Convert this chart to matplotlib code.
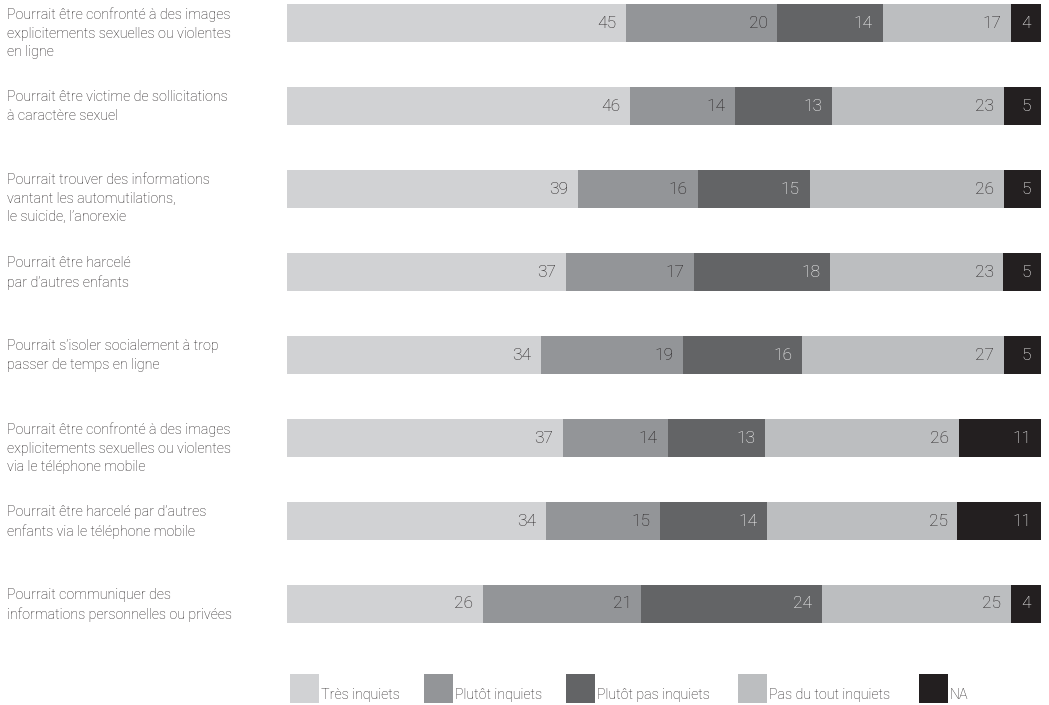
import matplotlib.pyplot as plt
import matplotlib.transforms as mtransforms
from matplotlib.patches import Rectangle
import numpy as np

plt.rcParams['font.family'] = ['Liberation Sans Narrow', 'Roboto', 'DejaVu Sans']
plt.rcParams['font.weight'] = 'light'

questions = [
    "Pourrait être confronté à des images\nexplicitements sexuelles ou violentes\nen ligne",
    "Pourrait être victime de sollicitations\nà caractère sexuel",
    "Pourrait trouver des informations\nvantant les automutilations,\nle suicide, l’anorexie",
    "Pourrait être harcelé\npar d’autres enfants",
    "Pourrait s’isoler socialement à trop\npasser de temps en ligne",
    "Pourrait être confronté à des images\nexplicitements sexuelles ou violentes\nvia le téléphone mobile",
    "Pourrait être harcelé par d’autres\nenfants via le téléphone mobile",
    "Pourrait communiquer des\ninformations personnelles ou privées",
]
answers = ["Très inquiets", "Plutôt inquiets", "Plutôt pas inquiets", "Pas du tout inquiets", "NA"]

tres = [45, 46, 39, 37, 34, 37, 34, 26]
plutot = [20, 14, 16, 17, 19, 14, 15, 21]
plutot_pas = [14, 13, 15, 18, 16, 13, 14, 24]
pas_du_tout = [17, 23, 26, 23, 27, 26, 25, 25]
na = [4, 5, 5, 5, 5, 11, 11, 4]

colors = ['#d1d2d4', '#939598', '#636466', '#bcbec0', '#231f20']
txt_colors = ['#231f20', '#231f20', 'white', '#231f20', 'white']

W, H = 1049, 705
fig = plt.figure(figsize=(W / 100, H / 100), dpi=100)
ax = fig.add_axes([287 / W, 1 - 645.5 / H, (1041 - 287) / W, 643.25 / H])

# each row is drawn as share of its own total so all bars end together
data = np.array([tres, plutot, plutot_pas, pas_du_tout, na], dtype=float)
totals = data.sum(axis=0)
widths = data / totals * 100
y = np.arange(len(questions))
left = np.zeros(len(questions))
for k in range(len(answers)):
    ax.barh(y, widths[k], left=left, height=0.446, color=colors[k], linewidth=0)
    for i in range(len(questions)):
        ax.annotate(str(int(data[k, i])), (left[i] + widths[k, i], y[i]),
                    xytext=(-7, 0), textcoords='offset points',
                    ha='right', va='center', fontsize=12.5, color=txt_colors[k])
    left += widths[k]

ax.set_xlim(0, 100)
ax.set_ylim(7.5, -0.25)
ax.axis('off')

trans = mtransforms.blended_transform_factory(fig.transFigure, ax.transData)
for i, q in enumerate(questions):
    fig.text(7 / W, y[i] - 0.19, q, transform=trans, ha='left', va='top',
             fontsize=10.3, color='#231f20', linespacing=1.42)

# legend
leg_x = [290, 424, 566, 738, 919]
for k, lab in enumerate(answers):
    fig.add_artist(Rectangle((leg_x[k] / W, 1 - 703 / H), 29 / W, 29 / H,
                             transform=fig.transFigure, color=colors[k], linewidth=0))
    fig.text((leg_x[k] + 31) / W, 1 - 702 / H, lab, ha='left', va='bottom',
             fontsize=10.3, color='#231f20')

fig.savefig('out.png', dpi=100)
